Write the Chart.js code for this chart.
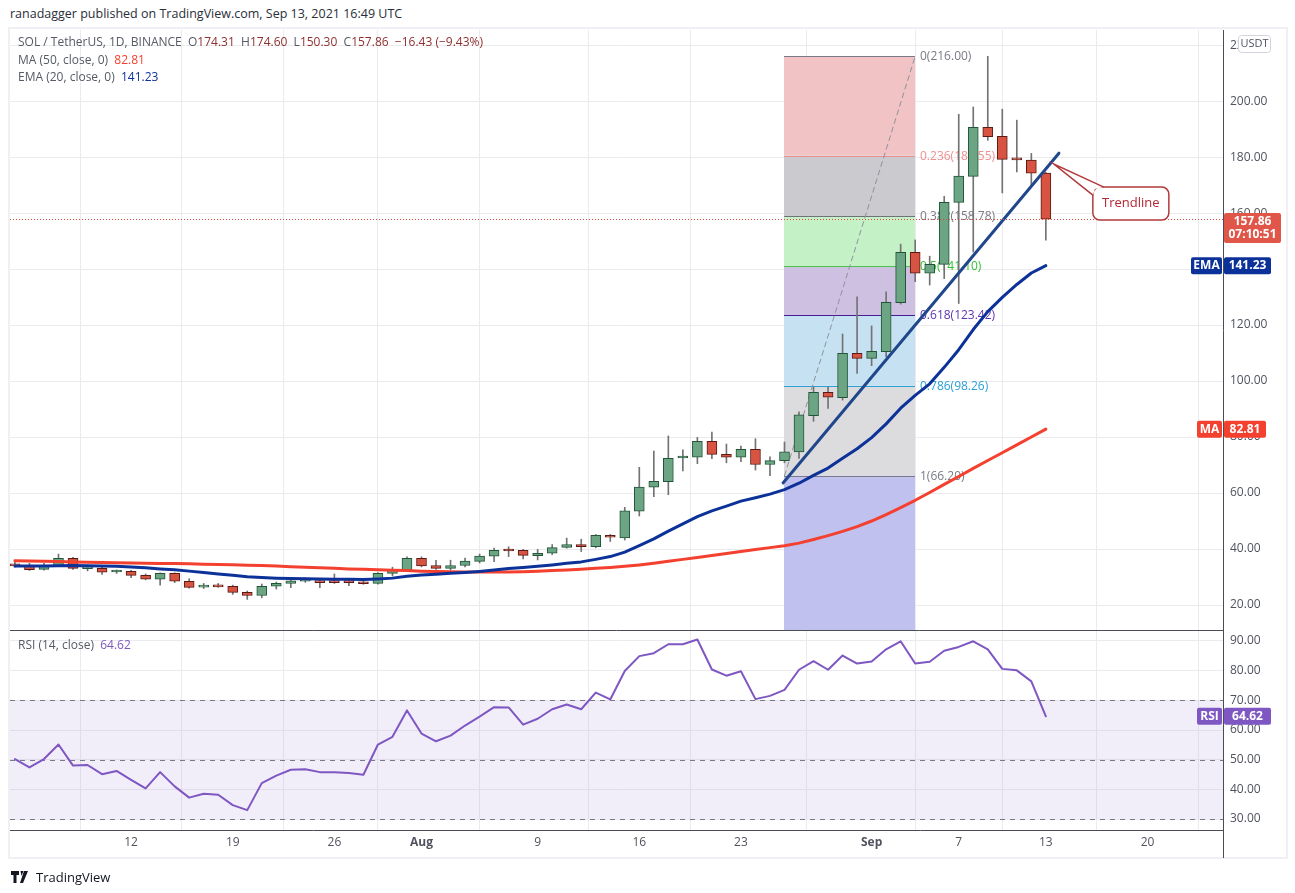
<!DOCTYPE html>
<html>
<head>
<meta charset="utf-8">
<title>SOL / TetherUS, 1D, BINANCE</title>
<script src="https://cdn.jsdelivr.net/npm/chart.js@4.4.1/dist/chart.umd.min.js"></script>
<style>
  html, body { margin: 0; padding: 0; background: #fff; }
  #page { position: relative; width: 1295px; height: 893px; overflow: hidden; font-family: "Open Sans", sans-serif; }
  #frame { position: absolute; left: 8px; top: 27px; width: 1280px; height: 832px; border: 2px solid #eef0f3; box-sizing: border-box; }
  #chart { position: absolute; left: 0; top: 0; }
  .t { position: absolute; white-space: pre; font-size: 12px; line-height: 16px; color: #555a64; }
  .v { color: #8f2f2f; }
  #logo { position: absolute; left: 11px; top: 868px; display: flex; align-items: center; font-size: 13px; color: #131722; }
  #logo svg { margin-right: 5px; }
</style>
</head>
<body>
<div id="page">
  <div class="t" style="left:10px; top:6px; font-size:12.5px; color:#2a2e39;">ranadagger published on TradingView.com, Sep 13, 2021 16:49 UTC</div>
  <div id="frame"></div>
  <canvas id="chart" width="1295" height="893"></canvas>
  <div class="t" id="lg1" style="left:18px; top:34px;"></div>
  <div class="t" id="lg2" style="left:18px; top:52px;"></div>
  <div class="t" id="lg3" style="left:18px; top:69px;"></div>
  <div class="t" id="lg4" style="left:18px; top:637px;"></div>
  <div id="logo">
    <svg width="20" height="12" viewBox="0 0 20 12"><path d="M0 0h8v4H5.5v8H2.5V4H0z M9.5 0h3l-2 5z M13 0h4l-5 12H9z" fill="#131722"/></svg>
    TradingView
  </div>
</div>
<script>
// candles, one per day
const dates = ['07-04','07-05','07-06','07-07','07-08','07-09','07-10','07-11','07-12','07-13',
  '07-14','07-15','07-16','07-17','07-18','07-19','07-20','07-21','07-22','07-23',
  '07-24','07-25','07-26','07-27','07-28','07-29','07-30','07-31','08-01','08-02',
  '08-03','08-04','08-05','08-06','08-07','08-08','08-09','08-10','08-11','08-12',
  '08-13','08-14','08-15','08-16','08-17','08-18','08-19','08-20','08-21','08-22',
  '08-23','08-24','08-25','08-26','08-27','08-28','08-29','08-30','08-31','09-01',
  '09-02','09-03','09-04','09-05','09-06','09-07','09-08','09-09','09-10','09-11',
  '09-12','09-13'];
const open = [34.6,34.2,32.7,34.1,36.7,33.0,33.1,31.8,32.0,30.6,
  29.2,31.3,28.5,26.4,26.8,26.7,24.5,23.4,26.7,27.7,
  28.5,28.6,28.2,28.1,28.3,27.7,31.3,32.4,36.7,34.1,
  33.1,34.1,35.6,37.4,39.6,39.5,37.6,38.5,40.6,41.6,
  40.8,44.9,44.0,53.5,62.1,64.1,72.5,72.8,78.5,73.8,
  72.8,75.6,70.2,71.6,74.7,87.6,96.0,94.1,109.9,108.1,
  110.5,128.0,146.0,138.5,141.7,163.8,173.1,190.6,187.4,179.4,
  178.9,174.31];
const high = [35.2,34.9,34.9,38.2,37.0,34.3,33.9,32.5,32.4,31.1,
  31.5,31.5,29.4,27.7,27.7,27.1,25.0,27.5,28.2,28.9,
  29.7,29.2,31.1,28.9,28.9,31.6,33.5,37.2,37.2,36.0,
  36.0,36.8,38.2,40.3,40.8,39.9,39.9,41.6,43.9,43.5,
  45.2,45.2,54.9,69.2,75.0,80.4,75.4,79.9,81.8,77.5,
  76.8,79.4,72.9,78.2,89.0,97.9,97.9,116.8,130.1,119.7,
  131.9,148.9,150.4,144.6,166.0,195.3,197.9,216.0,197.1,193.2,
  181.3,174.60];
const low = [33.5,32.3,32.4,33.8,32.7,32.2,30.9,31.3,29.8,29.0,
  27.1,28.0,26.0,25.9,26.3,23.8,22.0,22.6,25.7,26.2,
  28.1,26.2,27.7,26.9,27.4,27.4,30.4,32.0,33.6,32.7,
  32.5,33.6,35.0,35.5,37.3,36.5,36.1,38.0,40.3,39.1,
  40.4,42.7,43.2,51.8,58.7,59.4,67.9,70.5,72.3,70.8,
  71.2,68.2,66.2,70.8,72.4,85.6,90.2,93.2,102.7,105.5,
  108.7,127.5,135.5,134.3,136.6,127.7,146.1,186.0,167.2,174.7,
  169.4,150.30];
const close = [34.0,32.6,34.2,36.7,33.1,33.2,31.7,32.0,30.6,29.2,
  31.3,28.5,26.3,26.6,26.5,24.5,23.4,26.7,27.7,28.6,
  28.7,28.0,28.0,28.0,27.6,31.3,32.4,36.7,34.0,33.1,
  34.1,35.7,37.5,39.5,39.3,37.7,38.5,40.5,41.6,40.8,
  44.9,44.2,53.6,62.1,64.2,72.4,72.8,78.5,73.8,72.8,
  75.6,70.2,71.6,74.7,87.9,96.0,94.2,109.9,108.1,110.6,
  128.1,146.0,138.5,141.7,163.8,173.2,190.6,187.3,179.2,179.0,
  174.3,157.86];

// indicators
const ema20 = [33.9,33.9,33.9,34.0,34.1,34.0,33.9,33.8,33.6,33.3,
  32.9,32.6,32.1,31.6,31.1,30.6,30.1,29.8,29.6,29.5,
  29.4,29.3,29.2,29.2,29.1,29.3,29.6,30.3,30.7,31.0,
  31.3,31.6,32.0,32.5,33.0,33.4,33.8,34.3,34.9,35.4,
  36.3,37.3,38.9,41.2,43.6,46.4,49.0,51.6,53.6,55.3,
  57.1,58.3,59.6,61.2,63.5,66.3,68.9,72.4,75.8,79.8,
  84.7,90.3,94.9,99.0,104.9,111.2,118.4,124.8,129.9,134.5,
  138.6,141.23];
const ma50 = [35.8,35.7,35.6,35.5,35.4,35.3,35.2,35.1,35.0,34.9,
  34.8,34.8,34.7,34.6,34.5,34.4,34.2,34.1,33.9,33.7,
  33.5,33.3,33.1,32.9,32.8,32.6,32.4,32.3,32.1,32.0,
  31.9,31.8,31.8,31.8,31.8,31.9,32.1,32.3,32.5,32.8,
  33.1,33.4,33.8,34.3,34.9,35.6,36.3,37.0,37.7,38.4,
  39.1,39.8,40.5,41.2,42.1,43.4,44.8,46.3,48.0,50.0,
  52.3,54.8,57.4,60.2,63.1,65.9,68.8,71.6,74.4,77.2,
  80.0,82.81];
const rsi14 = [50.2,47.4,50.2,55.1,48.0,48.2,45.1,46.2,43.2,40.3,
  45.8,41.0,37.2,38.5,38.2,34.7,33.0,42.1,44.6,46.6,
  46.8,45.8,45.8,45.5,44.9,55.1,57.7,66.6,58.8,56.2,
  58.1,61.5,64.5,67.7,67.6,61.8,63.8,67.0,68.6,67.0,
  72.6,70.3,79.9,84.9,85.9,88.9,88.9,90.5,80.4,78.3,
  79.8,70.4,71.5,73.5,80.3,83.2,80.3,85.1,82.4,83.1,
  87.2,89.9,82.4,83.0,86.7,88.0,89.9,87.2,80.6,80.1,
  76.4,64.62];

// axes
const priceTicks = [20, 40, 60, 80, 100, 120, 140, 160, 180, 200, 220];
const rsiTicks = [30, 40, 50, 60, 70, 80, 90];
const tickDates = ['07-12','07-19','07-26','08-01','08-09','08-16','08-23','09-01','09-07','09-13','09-20'];
const tickLabels = ['12','19','26','Aug','9','16','23','Sep','7','13','20'];

// drawings
const fibLevels = [0, 0.236, 0.382, 0.5, 0.618, 0.786, 1];
const fibPrices = [216.00, 180.55, 158.78, 141.10, 123.42, 98.26, 66.20];
const fibDates = ['08-26', '09-04'];
const trendDays = [55.9, 74.9];
const trendPrices = [63.6, 181.4];
const calloutAt = [74.55, 177.5];
const rsiBand = [30, 50, 70];
const countdown = '07:10:51';

const UP = '#6ba583', UP_LINE = '#225437', DOWN = '#d75442', DOWN_LINE = '#5b1a13', WICK = '#737375';
const GRID = '#ebebef', AXIS_LINE = '#4a4d55', TXT = '#50535e';
const MA_COL = '#f4402f', EMA_COL = '#0c3299', RSI_COL = '#7e57c2';
const fibFills = ['#f1c3c4', '#cacacf', '#c5f1c6', '#cdc0e1', '#c6e2f2', '#dcdcde', '#c1c1ef'];
const fibLines = ['#787b86', '#f08c8c', '#6f727a', '#4cc24c', '#4a1c92', '#2aa0d8', '#787b86'];
const fibText = ['#787b86', '#f09090', '#787b86', '#34c134', '#5e35b1', '#2a9fd6', '#787b86'];

function dayOf(s) {
  const [m, d] = s.split('-').map(Number);
  return (Date.UTC(2021, m - 1, d) - Date.UTC(2021, 6, 1)) / 864e5;
}
const days = dates.map(dayOf);
const tickDays = tickDates.map(dayOf);
const last = close.length - 1;

// legends
const fmt = v => v.toFixed(2);
document.getElementById('lg1').innerHTML =
  'SOL / TetherUS, 1D, BINANCE  O<span class="v">' + fmt(open[last]) + '</span>  H<span class="v">' + fmt(high[last]) +
  '</span>  L<span class="v">' + fmt(low[last]) + '</span>  C<span class="v">' + fmt(close[last]) +
  '  \u221216.43 (\u22129.43%)</span>';
document.getElementById('lg2').innerHTML = 'MA (50, close, 0)  <span style="color:' + MA_COL + '">' + fmt(ma50[last]) + '</span>';
document.getElementById('lg3').innerHTML = 'EMA (20, close, 0)  <span style="color:' + EMA_COL + '">' + fmt(ema20[last]) + '</span>';
document.getElementById('lg4').innerHTML = 'RSI (14, close)  <span style="color:' + RSI_COL + '">' + fmt(rsi14[last]) + '</span>';

function roundRect(ctx, x, y, w, h, r) {
  ctx.beginPath();
  ctx.moveTo(x + r, y);
  ctx.arcTo(x + w, y, x + w, y + h, r);
  ctx.arcTo(x + w, y + h, x, y + h, r);
  ctx.arcTo(x, y + h, x, y, r);
  ctx.arcTo(x, y, x + w, y, r);
  ctx.closePath();
}

function tag(ctx, x, y, w, h, bg, lines) {
  ctx.fillStyle = bg;
  roundRect(ctx, x, y, w, h, 2);
  ctx.fill();
  ctx.fillStyle = '#fff';
  ctx.font = 'bold 12px "Open Sans"';
  ctx.textAlign = 'center';
  ctx.textBaseline = 'middle';
  lines.forEach(l => ctx.fillText(l[0], x + w / 2, l[1]));
}

const fibPlugin = {
  id: 'fib',
  beforeDatasetsDraw(chart) {
    const {ctx} = chart;
    const xs = chart.scales.x, ys = chart.scales.y;
    const x0 = Math.round(xs.getPixelForValue(dayOf(fibDates[0])));
    const x1 = Math.round(xs.getPixelForValue(dayOf(fibDates[1])));
    ctx.save();
    for (let i = 0; i < fibPrices.length - 1; i++) {
      const ya = ys.getPixelForValue(fibPrices[i]), yb = ys.getPixelForValue(fibPrices[i + 1]);
      ctx.fillStyle = fibFills[i];
      ctx.fillRect(x0, ya, x1 - x0, yb - ya);
    }
    const yl = ys.getPixelForValue(fibPrices[fibPrices.length - 1]);
    ctx.fillStyle = fibFills[fibFills.length - 1];
    ctx.fillRect(x0, yl, x1 - x0, ys.bottom - yl);
    ctx.font = '12px "Open Sans"';
    ctx.textAlign = 'left';
    ctx.textBaseline = 'middle';
    fibPrices.forEach((p, i) => {
      const y = Math.round(ys.getPixelForValue(p)) + 0.5;
      ctx.strokeStyle = fibLines[i];
      ctx.lineWidth = 1;
      ctx.beginPath();
      ctx.moveTo(x0, y);
      ctx.lineTo(x1, y);
      ctx.stroke();
      ctx.fillStyle = fibText[i];
      ctx.fillText(fibLevels[i] + '(' + p.toFixed(2) + ')', x1 + 5, y);
    });
    ctx.restore();
  }
};

const rsiPlugin = {
  id: 'rsiBand',
  beforeDatasetsDraw(chart) {
    const {ctx, chartArea} = chart;
    const rs = chart.scales.rsi;
    const yTop = rs.getPixelForValue(rsiBand[2]), yBot = rs.getPixelForValue(rsiBand[0]);
    ctx.save();
    ctx.fillStyle = 'rgba(126, 87, 194, 0.1)';
    ctx.fillRect(chartArea.left, yTop, chartArea.right - chartArea.left, yBot - yTop);
    ctx.strokeStyle = '#787b86';
    ctx.lineWidth = 1;
    ctx.setLineDash([5, 5]);
    rsiBand.forEach(v => {
      const y = Math.round(rs.getPixelForValue(v)) + 0.5;
      ctx.beginPath();
      ctx.moveTo(chartArea.left, y);
      ctx.lineTo(chartArea.right, y);
      ctx.stroke();
    });
    ctx.restore();
  }
};

const overlayPlugin = {
  id: 'overlay',
  afterDatasetsDraw(chart) {
    const {ctx, chartArea} = chart;
    const xs = chart.scales.x, ys = chart.scales.y;
    ctx.save();
    // last price line
    const py = Math.round(ys.getPixelForValue(close[last])) + 0.5;
    ctx.strokeStyle = '#e0483a';
    ctx.lineWidth = 1;
    ctx.setLineDash([1, 2]);
    ctx.beginPath();
    ctx.moveTo(chartArea.left, py);
    ctx.lineTo(chartArea.right, py);
    ctx.stroke();
    ctx.setLineDash([]);
    // callout
    const tx = xs.getPixelForValue(calloutAt[0]), ty = ys.getPixelForValue(calloutAt[1]);
    const bx = tx + 39, by = ty + 23, bw = 76, bh = 33;
    ctx.strokeStyle = '#b23a3a';
    ctx.lineWidth = 1.5;
    ctx.fillStyle = '#fff';
    roundRect(ctx, bx, by, bw, bh, 7);
    ctx.fill();
    ctx.stroke();
    ctx.beginPath();
    ctx.moveTo(bx + 11, by);
    ctx.lineTo(tx, ty);
    ctx.lineTo(bx, by + 8);
    ctx.lineTo(bx + 2, by + 2);
    ctx.closePath();
    ctx.fill();
    ctx.beginPath();
    ctx.moveTo(bx + 11, by);
    ctx.lineTo(tx, ty);
    ctx.lineTo(bx, by + 8);
    ctx.stroke();
    ctx.fillStyle = '#b22833';
    ctx.font = '13px "Open Sans"';
    ctx.textAlign = 'center';
    ctx.textBaseline = 'middle';
    ctx.fillText('Trendline', bx + bw / 2, by + bh / 2);
    ctx.restore();
  },
  afterDraw(chart) {
    const {ctx, chartArea} = chart;
    const ys = chart.scales.y, rs = chart.scales.rsi;
    const ax = chartArea.right + 1;
    ctx.save();
    // pane separator and axis line through the time scale
    ctx.strokeStyle = AXIS_LINE;
    ctx.lineWidth = 1;
    ctx.beginPath();
    ctx.moveTo(chartArea.left, Math.round(ys.bottom) + 0.5);
    ctx.lineTo(chartArea.right, Math.round(ys.bottom) + 0.5);
    ctx.moveTo(Math.round(chartArea.right) + 0.5, chartArea.bottom);
    ctx.lineTo(Math.round(chartArea.right) + 0.5, chart.scales.x.bottom);
    ctx.stroke();
    // USDT badge
    ctx.fillStyle = '#fff';
    ctx.strokeStyle = '#d1d4dc';
    roundRect(ctx, 1238.5, 35.5, 32, 17, 3);
    ctx.fill();
    ctx.stroke();
    ctx.fillStyle = TXT;
    ctx.font = '11px "Open Sans"';
    ctx.textAlign = 'center';
    ctx.textBaseline = 'middle';
    ctx.fillText('USDT', 1254.5, 44);
    // last price tag
    const py = ys.getPixelForValue(close[last]);
    tag(ctx, ax, py - 6, 57, 30, '#e0574a', [[fmt(close[last]), py + 3], [countdown, py + 16]]);
    // EMA tags
    const ey = ys.getPixelForValue(ema20[last]);
    tag(ctx, ax - 33, ey - 8.5, 31, 17, EMA_COL, [['EMA', ey]]);
    tag(ctx, ax, ey - 8.5, 47, 17, EMA_COL, [[fmt(ema20[last]), ey]]);
    // MA tags
    const my = ys.getPixelForValue(ma50[last]);
    tag(ctx, ax - 27, my - 8.5, 25, 17, MA_COL, [['MA', my]]);
    tag(ctx, ax, my - 8.5, 42, 17, MA_COL, [[fmt(ma50[last]), my]]);
    // RSI tags
    const ry = rs.getPixelForValue(rsi14[last]);
    tag(ctx, ax - 27, ry - 8.5, 25, 17, RSI_COL, [['RSI', ry]]);
    tag(ctx, ax, ry - 8.5, 47, 17, RSI_COL, [[fmt(rsi14[last]), ry]]);
    ctx.restore();
  }
};

Chart.defaults.font.family = '"Open Sans", sans-serif';
Chart.defaults.font.size = 12;
Chart.defaults.color = TXT;

const isUp = c => c.raw && c.raw.y[1] >= c.raw.y[0];
const pts = (arr) => days.map((d, i) => ({x: d, y: arr[i]}));
const lineBase = {type: 'line', pointRadius: 0, borderJoinStyle: 'round', borderCapStyle: 'round', fill: false};

new Chart(document.getElementById('chart'), {
  type: 'bar',
  data: {
    datasets: [
      {type: 'bar', label: 'wicks', yAxisID: 'y', order: 4, grouped: false, barThickness: 1,
        backgroundColor: WICK, borderWidth: 0,
        data: days.map((d, i) => ({x: d, y: [low[i], high[i]]}))},
      {type: 'bar', label: 'bodies', yAxisID: 'y', order: 3, grouped: false, barThickness: 10, minBarLength: 2,
        borderWidth: 1, borderSkipped: false,
        backgroundColor: c => isUp(c) ? UP : DOWN,
        borderColor: c => isUp(c) ? UP_LINE : DOWN_LINE,
        data: days.map((d, i) => ({x: d, y: [open[i], close[i]]}))},
      {...lineBase, label: 'fib trend', yAxisID: 'y', order: 5, borderColor: '#8f929b', borderWidth: 1, borderDash: [5, 4],
        data: [{x: dayOf(fibDates[0]), y: fibPrices[fibPrices.length - 1]}, {x: dayOf(fibDates[1]), y: fibPrices[0]}]},
      {...lineBase, label: 'MA (50)', yAxisID: 'y', order: 2, borderColor: MA_COL, borderWidth: 3, data: pts(ma50)},
      {...lineBase, label: 'EMA (20)', yAxisID: 'y', order: 1, borderColor: EMA_COL, borderWidth: 3, data: pts(ema20)},
      {...lineBase, label: 'Trendline', yAxisID: 'y', order: 0, borderColor: '#20478c', borderWidth: 3,
        data: trendDays.map((d, i) => ({x: d, y: trendPrices[i]}))},
      {...lineBase, label: 'RSI (14)', yAxisID: 'rsi', order: 0, borderColor: RSI_COL, borderWidth: 2, data: pts(rsi14)}
    ]
  },
  options: {
    responsive: false,
    animation: false,
    devicePixelRatio: 1,
    events: [],
    layout: {padding: {left: 10, top: 30, right: 8, bottom: 35}},
    plugins: {legend: {display: false}, tooltip: {enabled: false}},
    scales: {
      x: {
        type: 'linear', min: 2.66, max: 86.2, offset: false,
        grid: {color: GRID, drawTicks: false},
        border: {color: AXIS_LINE},
        ticks: {
          padding: 5, autoSkip: false, maxRotation: 0, color: TXT,
          font: c => ({size: 12, weight: /^[A-Z]/.test(tickLabels[c.index] || '') ? 'bold' : 'normal'}),
          callback: (v, i) => tickLabels[i]
        },
        afterBuildTicks: s => { s.ticks = tickDays.map(v => ({value: v})); },
        afterFit: s => { s.height = 28; }
      },
      y: {
        type: 'linear', position: 'right', stack: 'panes', stackWeight: 3, min: 11.07, max: 225.4,
        grid: {color: GRID, drawTicks: false},
        border: {color: AXIS_LINE},
        ticks: {padding: 7, autoSkip: false, color: TXT, callback: v => v.toFixed(2)},
        afterBuildTicks: s => { s.ticks = priceTicks.map(v => ({value: v})); },
        afterFit: s => { s.width = 64; }
      },
      rsi: {
        type: 'linear', position: 'right', stack: 'panes', stackWeight: 1, min: 26.3, max: 93.7,
        grid: {color: GRID, drawTicks: false},
        border: {color: AXIS_LINE},
        ticks: {padding: 7, autoSkip: false, color: TXT, callback: v => v.toFixed(2)},
        afterBuildTicks: s => { s.ticks = rsiTicks.map(v => ({value: v})); },
        afterFit: s => { s.width = 64; }
      }
    }
  },
  plugins: [fibPlugin, rsiPlugin, overlayPlugin]
});
</script>
</body>
</html>
